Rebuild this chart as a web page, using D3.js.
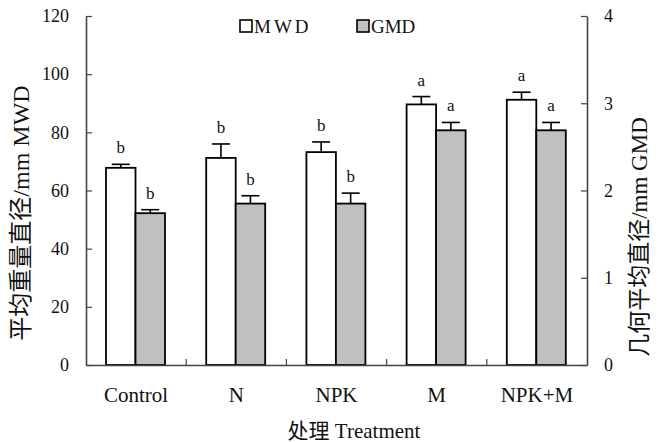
<!DOCTYPE html>
<html>
<head>
<meta charset="utf-8">
<script src="https://cdn.jsdelivr.net/npm/d3@7"></script>
<style>
  body { margin: 0; background: #fff; }
  text { font-family: "Liberation Serif", "Noto Sans CJK SC", serif; fill: #111; }
</style>
</head>
<body>
<svg id="chart" width="659" height="443"></svg>
<script>
// data
var categories = ["Control", "N", "NPK", "M", "NPK+M"];
var mwd    = [67.8, 71.2, 73.2, 89.6, 91.2];
var mwdErr = [1.2, 4.8, 3.5, 2.7, 2.6];
var mwdSig = ["b", "b", "b", "a", "a"];
var gmd    = [1.74, 1.85, 1.85, 2.69, 2.69];
var gmdErr = [0.04, 0.09, 0.12, 0.09, 0.09];
var gmdSig = ["b", "b", "b", "a", "a"];
var leftTicks  = [0, 20, 40, 60, 80, 100, 120];
var rightTicks = [0, 1, 2, 3, 4];

var svg = d3.select("#chart");
var plotLeft = 86, plotRight = 587, plotTop = 16, plotBottom = 365;
var axisColor = "#444";

var x0 = d3.scaleBand().domain(categories).range([plotLeft, plotRight]);
var x1 = d3.scaleBand().domain(["MWD", "GMD"]).range([20, 79]);
var yL = d3.scaleLinear().domain([0, 120]).range([plotBottom, plotTop]);
var yR = d3.scaleLinear().domain([0, 4]).range([plotBottom, plotTop]);

// build rows for both series
var rows = [];
categories.forEach(function(c, i){
    rows.push({cat: c, key: "MWD", y: yL(mwd[i]), yErr: yL(mwd[i] + mwdErr[i]), sig: mwdSig[i], fill: "#fff"});
    rows.push({cat: c, key: "GMD", y: yR(gmd[i]), yErr: yR(gmd[i] + gmdErr[i]), sig: gmdSig[i], fill: "#c0c0c0"});
});

var bw = x1.bandwidth();

// error bars
var err = svg.append("g").selectAll("g").data(rows).enter().append("g")
    .attr("stroke", "#000").attr("stroke-width", 1.6);
err.append("line")
    .attr("x1", function(d){ return x0(d.cat) + x1(d.key) + bw / 2; })
    .attr("x2", function(d){ return x0(d.cat) + x1(d.key) + bw / 2; })
    .attr("y1", function(d){ return d.y; })
    .attr("y2", function(d){ return d.yErr; });
err.append("line")
    .attr("x1", function(d){ return x0(d.cat) + x1(d.key) + bw / 2 - 9; })
    .attr("x2", function(d){ return x0(d.cat) + x1(d.key) + bw / 2 + 9; })
    .attr("y1", function(d){ return d.yErr; })
    .attr("y2", function(d){ return d.yErr; });

// bars
svg.append("g").selectAll("rect").data(rows).enter().append("rect")
    .attr("x", function(d){ return x0(d.cat) + x1(d.key); })
    .attr("y", function(d){ return d.y; })
    .attr("width", bw)
    .attr("height", function(d){ return plotBottom - d.y; })
    .attr("fill", function(d){ return d.fill; })
    .attr("stroke", "#000")
    .attr("stroke-width", 1.8);

// significance letters
svg.append("g").selectAll("text").data(rows).enter().append("text")
    .attr("x", function(d){ return x0(d.cat) + x1(d.key) + bw / 2; })
    .attr("y", function(d){ return d.yErr - 11; })
    .attr("text-anchor", "middle")
    .style("font-size", "17px")
    .text(function(d){ return d.sig; });

// axes
var axL = svg.append("g").attr("transform", "translate(" + plotLeft + ",0)")
    .call(d3.axisLeft(yL).tickValues(leftTicks).tickSizeInner(-6).tickSizeOuter(0).tickPadding(17));
var axR = svg.append("g").attr("transform", "translate(" + plotRight + ",0)")
    .call(d3.axisRight(yR).tickValues(rightTicks).tickFormat(d3.format("d"))
        .tickSizeInner(-6).tickSizeOuter(0).tickPadding(17));
var axB = svg.append("g").attr("transform", "translate(0," + plotBottom + ")")
    .call(d3.axisBottom(x0).tickSize(0).tickPadding(22));

[axL, axR, axB].forEach(function(a){
    a.select(".domain").attr("stroke", axisColor).attr("stroke-width", 1.6);
    a.selectAll(".tick line").attr("stroke", axisColor).attr("stroke-width", 1.2);
    a.selectAll("text").attr("fill", "#111").style("font-family", "Liberation Serif, serif");
});
axL.selectAll("text").style("font-size", "18px");
axR.selectAll("text").style("font-size", "18px");
axB.selectAll("text").style("font-size", "21px");

// category separator ticks on x axis (inward)
svg.append("g").selectAll("line").data(categories.slice(1)).enter().append("line")
    .attr("x1", function(d){ return x0(d); })
    .attr("x2", function(d){ return x0(d); })
    .attr("y1", plotBottom)
    .attr("y2", plotBottom - 6)
    .attr("stroke", axisColor).attr("stroke-width", 1.2);

// axis titles
svg.append("text")
    .attr("x", 354).attr("y", 438)
    .attr("text-anchor", "middle")
    .style("font-size", "21px")
    .text("处理  Treatment");

svg.append("text")
    .attr("transform", "translate(29,213) rotate(-90)")
    .attr("text-anchor", "middle")
    .style("font-size", "24px")
    .text("平均重量直径/mm MWD");

svg.append("text")
    .attr("transform", "translate(647,237) rotate(-90)")
    .attr("text-anchor", "middle")
    .style("font-size", "23px")
    .text("几何平均直径/mm GMD");

// legend
var legend = [
    {name: "MWD", fill: "#fff", x: 240, spacing: 3},
    {name: "GMD", fill: "#c0c0c0", x: 357, spacing: 0}
];
var lg = svg.append("g").selectAll("g").data(legend).enter().append("g");
lg.append("rect")
    .attr("x", function(d){ return d.x; })
    .attr("y", 20)
    .attr("width", 12).attr("height", 12)
    .attr("fill", function(d){ return d.fill; })
    .attr("stroke", "#000").attr("stroke-width", 1.6);
lg.append("text")
    .attr("x", function(d){ return d.x + 14; })
    .attr("y", 33)
    .style("font-size", "19px")
    .style("letter-spacing", function(d){ return d.spacing + "px"; })
    .text(function(d){ return d.name; });
</script>
</body>
</html>
